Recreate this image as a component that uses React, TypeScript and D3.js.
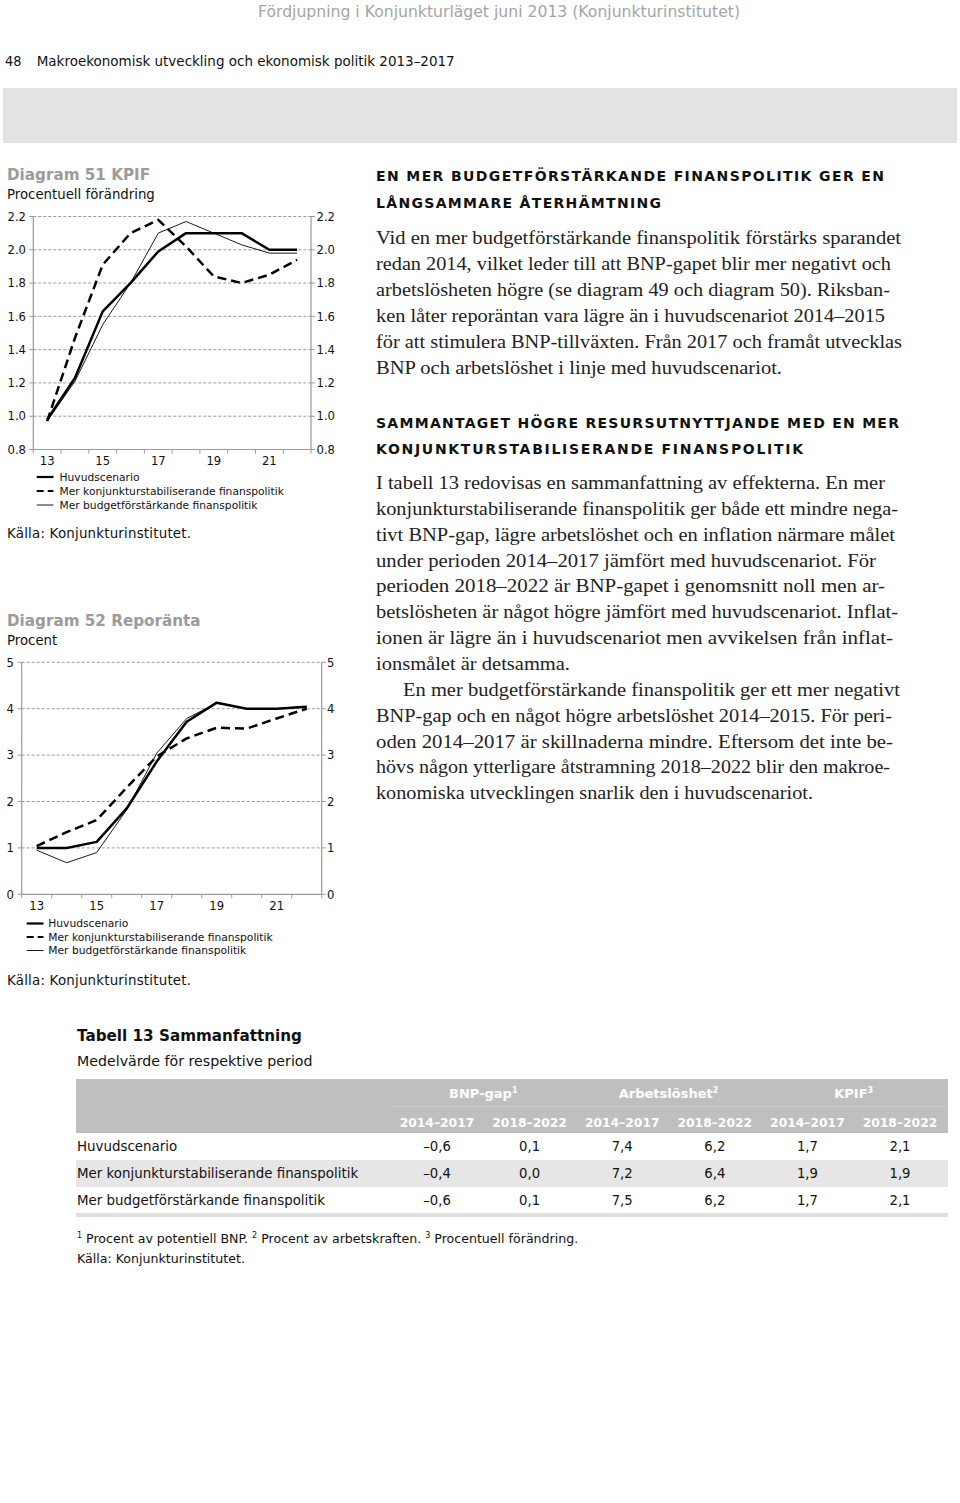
import React from 'react';
import * as d3 from 'd3';

// ---------- DATA ----------
const years = ['13', '14', '15', '16', '17', '18', '19', '20', '21', '22'];
const yearTickLabels = ['13', '15', '17', '19', '21'];

const seriesNames = [
  'Huvudscenario',
  'Mer konjunkturstabiliserande finanspolitik',
  'Mer budgetförstärkande finanspolitik',
];

// Diagram 51 KPIF (procentuell förändring)
const kpifHuvud = [0.98, 1.23, 1.63, 1.8, 1.99, 2.1, 2.1, 2.1, 2.0, 2.0];
const kpifKonj = [0.97, 1.47, 1.91, 2.1, 2.18, 2.02, 1.84, 1.8, 1.85, 1.94];
const kpifBudget = [0.97, 1.21, 1.55, 1.8, 2.1, 2.17, 2.1, 2.03, 1.98, 1.98];
const kpifTicks = [0.8, 1.0, 1.2, 1.4, 1.6, 1.8, 2.0, 2.2];

// Diagram 52 Reporänta (procent)
const repoHuvud = [1.0, 1.0, 1.13, 1.85, 2.86, 3.72, 4.13, 4.0, 4.0, 4.04];
const repoKonj = [1.04, 1.34, 1.6, 2.3, 2.97, 3.36, 3.59, 3.57, 3.79, 4.0];
const repoBudget = [0.95, 0.68, 0.9, 1.82, 3.04, 3.79, 4.12, 4.0, 4.0, 4.05];
const repoTicks = [0, 1, 2, 3, 4, 5];

// Tabell 13
const tableRowLabels = seriesNames;
const tableGroups = ['BNP-gap', 'Arbetslöshet', 'KPIF'];
const tablePeriods = ['2014–2017', '2018–2022'];
const bnpGapValues = [[-0.6, 0.1], [-0.4, 0.0], [-0.6, 0.1]];
const arbetsloshetValues = [[7.4, 6.2], [7.2, 6.4], [7.5, 6.2]];
const kpifTableValues = [[1.7, 2.1], [1.9, 1.9], [1.7, 2.1]];

// Body text
const heading1 = ['EN MER BUDGETFÖRSTÄRKANDE FINANSPOLITIK GER EN', 'LÅNGSAMMARE ÅTERHÄMTNING'];
const body1 = [
  'Vid en mer budgetförstärkande finanspolitik förstärks sparandet',
  'redan 2014, vilket leder till att BNP-gapet blir mer negativt och',
  'arbetslösheten högre (se diagram 49 och diagram 50). Riksban-',
  'ken låter reporäntan vara lägre än i huvudscenariot 2014–2015',
  'för att stimulera BNP-tillväxten. Från 2017 och framåt utvecklas',
  'BNP och arbetslöshet i linje med huvudscenariot.',
];
const heading2 = ['SAMMANTAGET HÖGRE RESURSUTNYTTJANDE MED EN MER', 'KONJUNKTURSTABILISERANDE FINANSPOLITIK'];
const body2 = [
  'I tabell 13 redovisas en sammanfattning av effekterna. En mer',
  'konjunkturstabiliserande finanspolitik ger både ett mindre nega-',
  'tivt BNP-gap, lägre arbetslöshet och en inflation närmare målet',
  'under perioden 2014–2017 jämfört med huvudscenariot. För',
  'perioden 2018–2022 är BNP-gapet i genomsnitt noll men ar-',
  'betslösheten är något högre jämfört med huvudscenariot. Inflat-',
  'ionen är lägre än i huvudscenariot men avvikelsen från inflat-',
  'ionsmålet är detsamma.',
  'En mer budgetförstärkande finanspolitik ger ett mer negativt',
  'BNP-gap och en något högre arbetslöshet 2014–2015. För peri-',
  'oden 2014–2017 är skillnaderna mindre. Eftersom det inte be-',
  'hövs någon ytterligare åtstramning 2018–2022 blir den makroe-',
  'konomiska utvecklingen snarlik den i huvudscenariot.',
];

// ---------- LAYOUT ----------
const SANS = '"DejaVu Sans", Verdana, sans-serif';
const SERIF = '"Liberation Serif", "Times New Roman", serif';
const body1Ends = [901, 891, 890, 885, 902, 782];
const body2Starts = [376, 376, 376, 376, 376, 376, 376, 376, 403, 376, 376, 376, 376];
const body2Ends = [885, 898, 895, 876, 885, 898, 893, 570, 900, 892, 893, 890, 813];

const seriesStyles = [
  { width: 2.5, dash: null, color: '#000' },
  { width: 2.5, dash: '9,5', color: '#000' },
  { width: 1, dash: null, color: '#1a1a1a' },
];
const legendDash = [null, '7,4', null];

type ChartCfg = {
  xLeft: number; xRight: number; yTop: number; yBottom: number;
  domain: [number, number]; ticks: number[]; fmt: (v: number) => string;
  series: number[][];
  title: string; titleY: number; subtitle: string; subtitleY: number;
  labelLeftX: number; labelRightX: number; xLabelY: number;
  legendY: number[]; legendX0: number; legendX1: number; legendTextX: number;
  sourceY: number;
};

function LineChart({ c }: { c: ChartCfg }) {
  const x = d3.scaleBand<string>().domain(years).range([c.xLeft, c.xRight]).padding(0);
  const y = d3.scaleLinear().domain(c.domain).range([c.yBottom, c.yTop]);
  const cx = (yr: string) => (x(yr) as number) + x.bandwidth() / 2;
  const line = d3.line<number>().x((_, i) => cx(years[i])).y((d) => y(d));
  const bounds = years.map((yr) => x(yr) as number).concat([c.xRight]);
  const axisColor = '#9a9a9a';
  const order = [2, 0, 1];
  return (
    <g>
      <text x={7} y={c.titleY} fontFamily={SANS} fontWeight="bold" fontSize={15.2} fill="#9b9b9b">{c.title}</text>
      <text x={7} y={c.subtitleY} fontFamily={SANS} fontSize={13.3} fill="#111">{c.subtitle}</text>
      {c.ticks.map((t, i) => (
        <g key={'t' + i}>
          {i > 0 && (
            <line x1={c.xLeft} x2={c.xRight} y1={y(t)} y2={y(t)} stroke="#9a9a9a" strokeWidth={1} strokeDasharray="3,2" />
          )}
          <line x1={c.xLeft - 4} x2={c.xLeft} y1={y(t)} y2={y(t)} stroke={axisColor} strokeWidth={1} />
          <line x1={c.xRight} x2={c.xRight + 4} y1={y(t)} y2={y(t)} stroke={axisColor} strokeWidth={1} />
          <text x={c.labelLeftX} y={y(t) + 4.2} textAnchor="end" fontFamily={SANS} fontSize={11.6} fill="#111">{c.fmt(t)}</text>
          <text x={c.labelRightX} y={y(t) + 4.2} fontFamily={SANS} fontSize={11.6} fill="#111">{c.fmt(t)}</text>
        </g>
      ))}
      <line x1={c.xLeft} x2={c.xLeft} y1={c.yTop} y2={c.yBottom} stroke={axisColor} strokeWidth={1.2} />
      <line x1={c.xRight} x2={c.xRight} y1={c.yTop} y2={c.yBottom} stroke={axisColor} strokeWidth={1.2} />
      <line x1={c.xLeft} x2={c.xRight} y1={c.yBottom} y2={c.yBottom} stroke={axisColor} strokeWidth={1.2} />
      {bounds.map((b, i) => (
        <line key={'b' + i} x1={b} x2={b} y1={c.yBottom} y2={c.yBottom + 4} stroke={axisColor} strokeWidth={1} />
      ))}
      {yearTickLabels.map((yr) => (
        <text key={yr} x={cx(yr)} y={c.xLabelY} textAnchor="middle" fontFamily={SANS} fontSize={11.6} fill="#111">{yr}</text>
      ))}
      {order.map((si) => (
        <path key={'s' + si} d={line(c.series[si]) || ''} fill="none" stroke={seriesStyles[si].color}
          strokeWidth={seriesStyles[si].width} strokeDasharray={seriesStyles[si].dash || undefined}
          strokeLinejoin="round" />
      ))}
      {seriesNames.map((n, i) => (
        <g key={'l' + i}>
          <line x1={c.legendX0} x2={c.legendX1} y1={c.legendY[i]} y2={c.legendY[i]} stroke={seriesStyles[i].color}
            strokeWidth={seriesStyles[i].width === 1 ? 1 : 2.2} strokeDasharray={legendDash[i] || undefined} />
          <text x={c.legendTextX} y={c.legendY[i] + 3.8} fontFamily={SANS} fontSize={10.7} fill="#111">{n}</text>
        </g>
      ))}
      <text x={7} y={c.sourceY} fontFamily={SANS} fontSize={13.4} fill="#111" textLength={184} lengthAdjust="spacing">Källa: Konjunkturinstitutet.</text>
    </g>
  );
}

const fmtNum = (v: number) => (v < 0 ? '–' : '') + Math.abs(v).toFixed(1).replace('.', ',');

export default function App() {
  const kpifCfg: ChartCfg = {
    xLeft: 33.3, xRight: 311, yTop: 216.5, yBottom: 449.5,
    domain: [0.8, 2.2], ticks: kpifTicks, fmt: (v) => v.toFixed(1),
    series: [kpifHuvud, kpifKonj, kpifBudget],
    title: 'Diagram 51 KPIF', titleY: 179.5, subtitle: 'Procentuell förändring', subtitleY: 199,
    labelLeftX: 26, labelRightX: 316.5, xLabelY: 464.5,
    legendY: [477, 491, 505], legendX0: 36.7, legendX1: 53.5, legendTextX: 59.5,
    sourceY: 538,
  };
  const repoCfg: ChartCfg = {
    xLeft: 21.7, xRight: 321.7, yTop: 662.3, yBottom: 894.3,
    domain: [0, 5], ticks: repoTicks, fmt: (v) => String(v),
    series: [repoHuvud, repoKonj, repoBudget],
    title: 'Diagram 52 Reporänta', titleY: 625.5, subtitle: 'Procent', subtitleY: 645,
    labelLeftX: 14, labelRightX: 327, xLabelY: 910,
    legendY: [923.5, 937, 950.5], legendX0: 26.7, legendX1: 43.5, legendTextX: 48.3,
    sourceY: 985,
  };

  // table
  const colX = d3.scaleLinear().domain([0, 5]).range([437, 900]);
  const tableValues = tableRowLabels.map((_, r) => [
    ...bnpGapValues[r], ...arbetsloshetValues[r], ...kpifTableValues[r],
  ]);
  const rowY = [1133, 1160, 1187];
  const rowH = [27, 27, 26];

  return (
    <svg width={960} height={1503} style={{ position: 'absolute', left: 0, top: 0, background: '#fff' }}>
      <rect x={0} y={0} width={960} height={1503} fill="#fff" />
      {/* page header */}
      <text x={258} y={17} fontFamily={SANS} fontSize={15} fill="#a5a5a5" textLength={482} lengthAdjust="spacingAndGlyphs">
        Fördjupning i Konjunkturläget juni 2013 (Konjunkturinstitutet)
      </text>
      <text x={5} y={66} fontFamily={SANS} fontSize={14.2} fill="#111" textLength={16.5} lengthAdjust="spacingAndGlyphs">48</text>
      <text x={36.7} y={66} fontFamily={SANS} fontSize={14.2} fill="#111" textLength={418} lengthAdjust="spacingAndGlyphs">
        Makroekonomisk utveckling och ekonomisk politik 2013–2017
      </text>
      <rect x={3} y={88} width={954} height={55} fill="#e3e3e3" />

      <LineChart c={kpifCfg} />
      <LineChart c={repoCfg} />

      {/* right column text */}
      {heading1.map((t, i) => (
        <text key={'h1' + i} x={376} y={180.5 + i * 27} fontFamily={SANS} fontWeight="bold" fontSize={14} fill="#111"
          textLength={i === 0 ? 508 : 285} lengthAdjust="spacing">{t}</text>
      ))}
      {body1.map((t, i) => (
        <text key={'b1' + i} x={376} y={244 + i * 26} fontFamily={SERIF} fontSize={18.5} fill="#222"
          textLength={body1Ends[i] - 376} lengthAdjust="spacingAndGlyphs">{t}</text>
      ))}
      {heading2.map((t, i) => (
        <text key={'h2' + i} x={376} y={427.5 + i * 26} fontFamily={SANS} fontWeight="bold" fontSize={14} fill="#111"
          textLength={i === 0 ? 523 : 427} lengthAdjust="spacing">{t}</text>
      ))}
      {body2.map((t, i) => (
        <text key={'b2' + i} x={body2Starts[i]} y={489 + i * 25.85} fontFamily={SERIF} fontSize={18.5} fill="#222"
          textLength={body2Ends[i] - body2Starts[i]} lengthAdjust="spacingAndGlyphs">{t}</text>
      ))}

      {/* table */}
      <text x={77} y={1041} fontFamily={SANS} fontWeight="bold" fontSize={15.2} fill="#111">Tabell 13 Sammanfattning</text>
      <text x={77} y={1066} fontFamily={SANS} fontSize={14.2} fill="#111">Medelvärde för respektive period</text>
      <rect x={76} y={1079} width={872} height={54} fill="#bfbfbf" />
      <line x1={390} x2={948} y1={1106.5} y2={1106.5} stroke="#c9c9c9" strokeWidth={1} />
      {tableGroups.map((g, gi) => (
        <text key={g} x={(colX(gi * 2) + colX(gi * 2 + 1)) / 2} y={1098} textAnchor="middle" fontFamily={SANS}
          fontWeight="bold" fontSize={13} fill="#fff">
          {g}<tspan fontSize={8} dy={-5}>{gi + 1}</tspan>
        </text>
      ))}
      {[0, 1, 2, 3, 4, 5].map((ci) => (
        <text key={'p' + ci} x={colX(ci)} y={1126.5} textAnchor="middle" fontFamily={SANS} fontWeight="bold"
          fontSize={12.3} fill="#fff">{tablePeriods[ci % 2]}</text>
      ))}
      {tableRowLabels.map((lab, r) => (
        <g key={'r' + r}>
          <rect x={76} y={rowY[r]} width={872} height={rowH[r]} fill={r === 1 ? '#e6e6e6' : '#fff'} />
          <text x={77} y={rowY[r] + rowH[r] / 2 + 4.7} fontFamily={SANS} fontSize={13.4} fill="#111">{lab}</text>
          {tableValues[r].map((v, ci) => (
            <text key={ci} x={colX(ci)} y={rowY[r] + rowH[r] / 2 + 4.7} textAnchor="middle" fontFamily={SANS}
              fontSize={13.2} fill="#111">{fmtNum(v)}</text>
          ))}
        </g>
      ))}
      <rect x={76} y={1213} width={872} height={4} fill="#e0e0e0" />
      <text x={77} y={1242.5} fontFamily={SANS} fontSize={12.6} fill="#111">
        <tspan fontSize={8} dy={-5}>1</tspan>
        <tspan dy={5}> Procent av potentiell BNP. </tspan>
        <tspan fontSize={8} dy={-5}>2</tspan>
        <tspan dy={5}> Procent av arbetskraften. </tspan>
        <tspan fontSize={8} dy={-5}>3</tspan>
        <tspan dy={5}> Procentuell förändring.</tspan>
      </text>
      <text x={77} y={1262.5} fontFamily={SANS} fontSize={12.6} fill="#111">Källa: Konjunkturinstitutet.</text>
    </svg>
  );
}
